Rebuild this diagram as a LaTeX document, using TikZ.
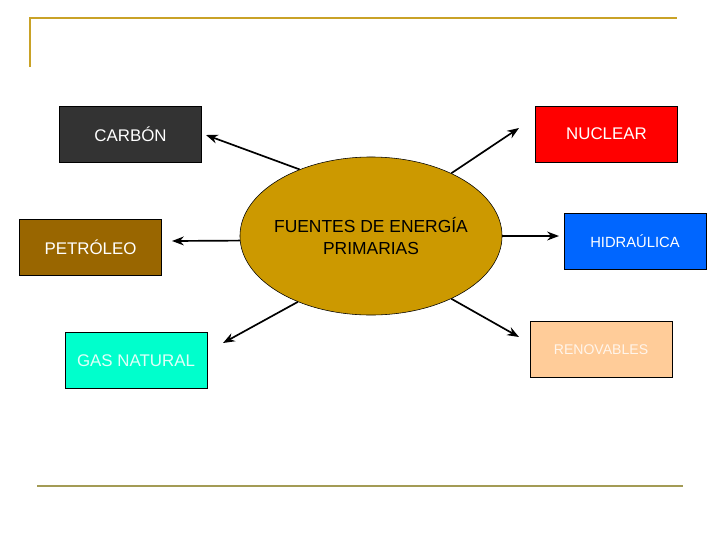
\documentclass[tikz,border=0pt]{standalone}
\usepackage{fontspec}
\setmainfont{Liberation Sans}
\usepackage{tikz}
\usetikzlibrary{arrows.meta, shapes.geometric}
\definecolor{framegold}{HTML}{C9A227}
\definecolor{frameolive}{HTML}{A39B55}
\definecolor{fuentegold}{HTML}{CC9900}
\definecolor{carbongray}{HTML}{333333}
\definecolor{nuclearred}{HTML}{FF0000}
\definecolor{petroleobrown}{HTML}{996600}
\definecolor{hidroblue}{HTML}{0066FF}
\definecolor{gascyan}{HTML}{00FFCC}
\definecolor{renovpeach}{HTML}{FFCC99}

\begin{document}
\begin{tikzpicture}[>=Stealth, x=0.025cm, y=-0.025cm,
  fuente/.style={draw, minimum width=3.55cm, minimum height=1.4cm, inner sep=0pt,
    text=white, font=\fontsize{12}{14}\selectfont}]
  \useasboundingbox (0,0) rectangle (720,540);
  % frame lines
  \draw[framegold, line width=2pt] (30,67) -- (30,18) -- (677,18);
  \draw[frameolive, line width=1.5pt] (37,486) -- (683,486);

  \node[draw, ellipse, fill=fuentegold, minimum width=6.55cm, minimum height=3.95cm,
    inner ysep=0pt, inner xsep=-0.18cm, align=center, font=\fontsize{12.4}{15.6}\selectfont]
    (fuentes) at (371,236) {FUENTES DE ENERGÍA\\PRIMARIAS};

  \node[fuente, fill=carbongray] (carbon) at (130.5,134) {CARBÓN};
  \node[fuente, fill=nuclearred] (nuclear) at (606.5,134) {NUCLEAR};
  \node[fuente, fill=petroleobrown] (petroleo) at (90.5,247) {PETRÓLEO};
  \node[fuente, fill=hidroblue, font=\fontsize{10.5}{12}\selectfont]
    (hidraulica) at (635,241) {HIDRAÚLICA};
  \node[fuente, fill=gascyan, text=white!88!gascyan] (gas) at (136,360.5) {GAS NATURAL};
  \node[fuente, fill=renovpeach, text=white!80!renovpeach, font=\fontsize{10}{12}\selectfont]
    (renovables) at (601,349.5) {RENOVABLES};

  % arrow tips
  \coordinate (tipcarbon) at (206,135);
  \coordinate (tipnuclear) at (519,128);
  \coordinate (tippetroleo) at (172,241);
  \coordinate (tiphidraulica) at (559,236);
  \coordinate (tipgas) at (223,343);
  \coordinate (tiprenovables) at (519,337);

  \draw[->, line width=1.2pt] (fuentes.137) -- (tipcarbon);
  \draw[->, line width=1.2pt] (fuentes.38.6) -- (tipnuclear);
  \draw[->, line width=1.2pt] (fuentes.182) -- (tippetroleo);
  \draw[->, line width=1.2pt] (fuentes.east) -- (tiphidraulica);
  \draw[->, line width=1.2pt] (fuentes.222.5) -- (tipgas);
  \draw[->, line width=1.2pt] (fuentes.322) -- (tiprenovables);
\end{tikzpicture}
\end{document}
